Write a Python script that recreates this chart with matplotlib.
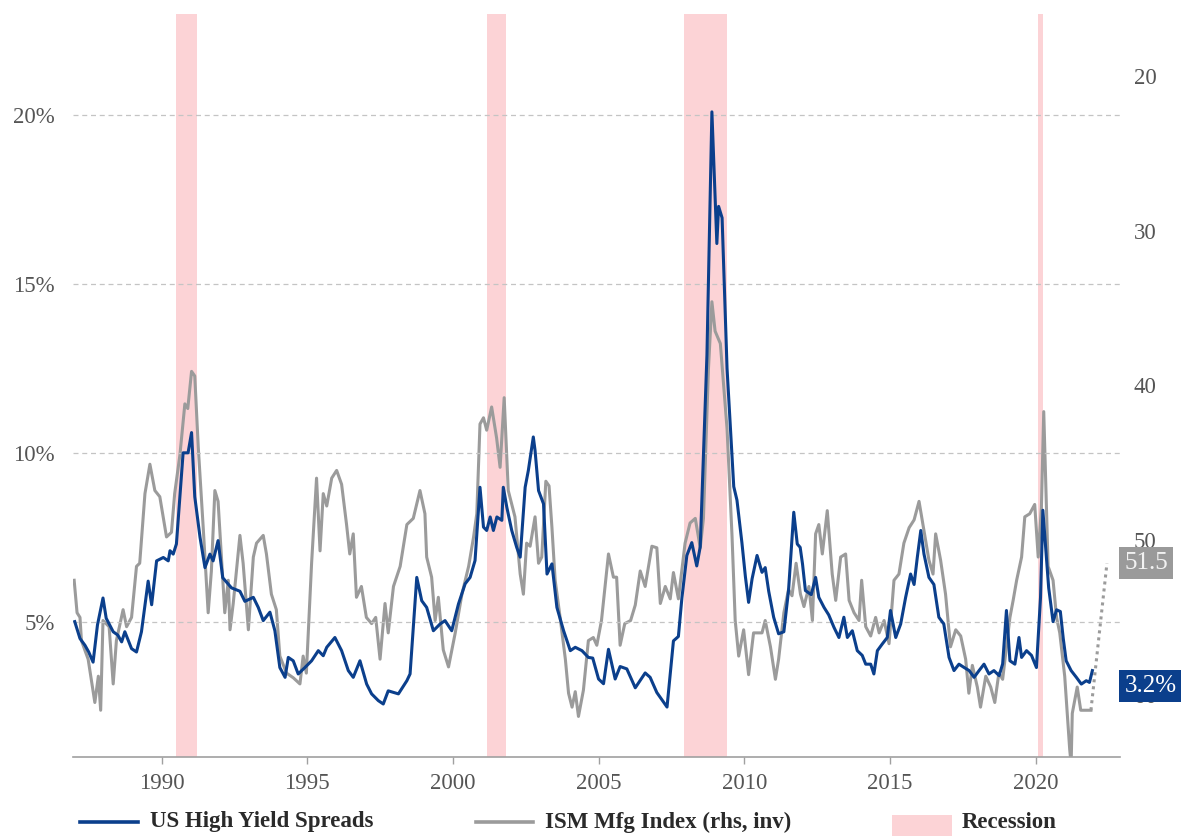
import matplotlib
matplotlib.use("Agg")
import matplotlib.pyplot as plt
import matplotlib.transforms as mtransforms
from matplotlib.lines import Line2D
from matplotlib.patches import Rectangle

plt.rcParams['font.family'] = ['Liberation Serif', 'DejaVu Serif']

# US high yield spreads (%), decimal years
hy_dates = [1987.02, 1987.2, 1987.37, 1987.5, 1987.65, 1987.8, 1987.99, 1988.1, 1988.34, 1988.5,
            1988.63, 1988.74, 1988.97, 1989.14, 1989.31, 1989.54, 1989.66, 1989.83, 1990.06, 1990.23,
            1990.29, 1990.4, 1990.51, 1990.74, 1990.91, 1991.03, 1991.14, 1991.32, 1991.49, 1991.66,
            1991.77, 1991.94, 1992.1, 1992.4, 1992.69, 1992.86, 1993.15, 1993.32, 1993.49, 1993.72,
            1993.89, 1994.06, 1994.24, 1994.35, 1994.52, 1994.69, 1994.92, 1995.15, 1995.38, 1995.55,
            1995.67, 1995.95, 1996.18, 1996.41, 1996.58, 1996.81, 1997.04, 1997.21, 1997.44, 1997.61,
            1997.78, 1998.13, 1998.42, 1998.53, 1998.76, 1998.93, 1999.1, 1999.33, 1999.56, 1999.73,
            1999.96, 2000.19, 2000.42, 2000.59, 2000.76, 2000.93, 2001.05, 2001.16, 2001.28, 2001.39,
            2001.51, 2001.68, 2001.73, 2001.85, 2002.02, 2002.19, 2002.31, 2002.48, 2002.59, 2002.76,
            2002.82, 2002.94, 2003.11, 2003.23, 2003.4, 2003.57, 2003.8, 2004.03, 2004.2, 2004.43,
            2004.65, 2004.8, 2005.0, 2005.17, 2005.34, 2005.57, 2005.74, 2005.97, 2006.26, 2006.6,
            2006.77, 2007.0, 2007.35, 2007.57, 2007.74, 2007.86, 2008.03, 2008.2, 2008.37, 2008.49,
            2008.72, 2008.89, 2009.06, 2009.12, 2009.24, 2009.41, 2009.64, 2009.75, 2009.92, 2010.04,
            2010.15, 2010.27, 2010.44, 2010.61, 2010.72, 2010.84, 2011.01, 2011.18, 2011.36, 2011.52,
            2011.7, 2011.82, 2011.92, 2012.0, 2012.1, 2012.3, 2012.45, 2012.56, 2012.74, 2012.9,
            2013.08, 2013.25, 2013.42, 2013.54, 2013.71, 2013.88, 2014.05, 2014.17, 2014.34, 2014.45,
            2014.57, 2014.74, 2014.91, 2015.02, 2015.2, 2015.37, 2015.54, 2015.71, 2015.83, 2015.94,
            2016.06, 2016.17, 2016.34, 2016.51, 2016.68, 2016.85, 2017.03, 2017.2, 2017.37, 2017.55,
            2017.72, 2017.89, 2018.06, 2018.23, 2018.4, 2018.57, 2018.75, 2018.87, 2019.0, 2019.12,
            2019.29, 2019.43, 2019.52, 2019.69, 2019.86, 2020.03, 2020.17, 2020.25, 2020.45, 2020.6,
            2020.72, 2020.85, 2020.95, 2021.05, 2021.22, 2021.4, 2021.57, 2021.74, 2021.85, 2021.95]
hy_vals = [5.0, 4.5, 4.3, 4.1, 3.8, 4.9, 5.7, 5.1, 4.7, 4.6,
           4.4, 4.7, 4.2, 4.1, 4.7, 6.2, 5.5, 6.8, 6.9, 6.8,
           7.1, 7.0, 7.3, 10.0, 10.0, 10.6, 8.7, 7.5, 6.6, 7.0,
           6.8, 7.4, 6.3, 6.0, 5.9, 5.6, 5.72, 5.42, 5.03, 5.28,
           4.73, 3.64, 3.35, 3.94, 3.84, 3.45, 3.64, 3.84, 4.14, 3.99,
           4.24, 4.53, 4.14, 3.55, 3.35, 3.84, 3.15, 2.86, 2.66, 2.56,
           2.95, 2.86, 3.25, 3.45, 6.31, 5.62, 5.42, 4.73, 4.93, 5.03,
           4.73, 5.52, 6.12, 6.31, 6.81, 8.98, 7.8, 7.7, 8.1, 7.7,
           8.1, 8.0, 8.98, 8.39, 7.7, 7.2, 6.91, 8.98, 9.48, 10.47,
           10.07, 8.88, 8.49, 6.41, 6.71, 5.42, 4.73, 4.14, 4.24, 4.14,
           3.94, 3.92, 3.3, 3.16, 4.18, 3.3, 3.67, 3.6, 3.04, 3.48,
           3.35, 2.9, 2.47, 4.43, 4.56, 5.7, 6.96, 7.34, 6.65, 7.22,
           12.9, 20.1, 16.2, 17.3, 16.96, 12.5, 9.0, 8.6, 7.34, 6.33,
           5.57, 6.27, 6.96, 6.46, 6.6, 5.9, 5.13, 4.64, 4.7, 5.92,
           8.24, 7.3, 7.2, 6.71, 5.92, 5.8, 6.31, 5.72, 5.42, 5.2,
           4.83, 4.53, 5.13, 4.53, 4.73, 4.14, 4.0, 3.74, 3.74, 3.45,
           4.14, 4.34, 4.53, 5.33, 4.53, 4.93, 5.72, 6.41, 6.1, 6.9,
           7.7, 7.0, 6.31, 6.1, 5.13, 4.93, 3.94, 3.55, 3.74, 3.64,
           3.55, 3.35, 3.55, 3.74, 3.45, 3.55, 3.4, 3.75, 5.33, 3.84,
           3.74, 4.53, 3.94, 4.14, 4.0, 3.64, 5.72, 8.3, 6.0, 5.0,
           5.35, 5.3, 4.5, 3.84, 3.55, 3.35, 3.15, 3.25, 3.2, 3.55]

# ISM manufacturing index (right axis, inverted)
ism_dates = [1987.0, 1987.1, 1987.2, 1987.25, 1987.48, 1987.71, 1987.83, 1987.91, 1987.99, 1988.2,
             1988.34, 1988.45, 1988.68, 1988.8, 1988.97, 1989.14, 1989.25, 1989.43, 1989.6, 1989.77,
             1989.94, 1990.17, 1990.34, 1990.45, 1990.63, 1990.8, 1990.9, 1991.03, 1991.14, 1991.26,
             1991.43, 1991.6, 1991.71, 1991.83, 1991.94, 1992.06, 1992.17, 1992.29, 1992.35, 1992.46,
             1992.69, 1992.8, 1992.98, 1993.15, 1993.26, 1993.49, 1993.6, 1993.77, 1993.94, 1994.06,
             1994.29, 1994.52, 1994.75, 1994.86, 1994.97, 1995.15, 1995.32, 1995.44, 1995.55, 1995.67,
             1995.84, 1996.01, 1996.18, 1996.35, 1996.46, 1996.58, 1996.69, 1996.86, 1997.03, 1997.21,
             1997.35, 1997.5, 1997.67, 1997.78, 1997.96, 1998.19, 1998.42, 1998.64, 1998.87, 1999.04,
             1999.1, 1999.27, 1999.39, 1999.5, 1999.67, 1999.85, 2000.08, 2000.31, 2000.54, 2000.71,
             2000.82, 2000.93, 2001.05, 2001.16, 2001.33, 2001.5, 2001.62, 2001.76, 2001.9, 2002.13,
             2002.31, 2002.42, 2002.53, 2002.65, 2002.82, 2002.94, 2003.05, 2003.19, 2003.3, 2003.4,
             2003.51, 2003.68, 2003.86, 2003.97, 2004.09, 2004.2, 2004.31, 2004.48, 2004.65, 2004.82,
             2004.94, 2005.1, 2005.34, 2005.51, 2005.62, 2005.74, 2005.9, 2006.1, 2006.26, 2006.43,
             2006.6, 2006.83, 2007.0, 2007.12, 2007.29, 2007.46, 2007.57, 2007.74, 2007.97, 2008.14,
             2008.32, 2008.49, 2008.6, 2008.77, 2008.89, 2009.0, 2009.18, 2009.41, 2009.58, 2009.69,
             2009.81, 2009.98, 2010.15, 2010.32, 2010.61, 2010.72, 2010.9, 2011.07, 2011.18, 2011.36,
             2011.52, 2011.64, 2011.78, 2011.93, 2012.05, 2012.22, 2012.34, 2012.45, 2012.56, 2012.68,
             2012.85, 2013.02, 2013.14, 2013.31, 2013.48, 2013.6, 2013.77, 2013.94, 2014.03, 2014.17,
             2014.34, 2014.51, 2014.63, 2014.8, 2014.97, 2015.14, 2015.31, 2015.48, 2015.66, 2015.83,
             2016.0, 2016.17, 2016.34, 2016.48, 2016.57, 2016.74, 2016.91, 2017.08, 2017.26, 2017.43,
             2017.6, 2017.71, 2017.83, 2018.0, 2018.11, 2018.29, 2018.46, 2018.6, 2018.74, 2018.87,
             2019.0, 2019.12, 2019.23, 2019.35, 2019.52, 2019.63, 2019.8, 2019.97, 2020.09, 2020.2,
             2020.28, 2020.43, 2020.6, 2020.72, 2020.83, 2021.0, 2021.17, 2021.22, 2021.26, 2021.43,
             2021.55, 2021.72, 2021.9]
ism_vals = [52.6, 54.7, 55.0, 56.5, 57.7, 60.5, 58.8, 61.0, 55.2, 55.6,
            59.3, 56.5, 54.5, 55.6, 55.0, 51.7, 51.5, 47.0, 45.1, 46.8,
            47.2, 49.8, 49.5, 47.0, 44.5, 41.2, 41.5, 39.1, 39.4, 44.0,
            49.2, 54.7, 52.0, 46.8, 47.5, 51.3, 54.7, 52.6, 55.8, 54.1,
            49.7, 51.5, 55.8, 51.1, 50.2, 49.7, 50.9, 53.5, 54.5, 57.5,
            58.6, 58.9, 59.3, 57.5, 58.6, 51.5, 46.0, 50.7, 47.0, 47.8,
            46.0, 45.5, 46.4, 49.0, 50.9, 49.6, 53.7, 53.0, 55.0, 55.4,
            55.0, 57.7, 54.1, 56.0, 53.0, 51.7, 49.0, 48.6, 46.8, 48.3,
            51.1, 52.4, 55.2, 53.7, 57.1, 58.2, 56.0, 53.5, 51.7, 49.8,
            48.3, 42.5, 42.1, 42.9, 41.4, 43.4, 45.3, 40.8, 46.8, 48.5,
            52.2, 53.5, 50.2, 50.4, 48.5, 51.5, 51.1, 46.2, 46.5, 49.2,
            52.6, 55.0, 57.7, 59.9, 60.8, 59.8, 61.4, 59.7, 56.5, 56.3,
            56.8, 55.2, 50.9, 52.4, 52.4, 56.8, 55.4, 55.2, 54.2, 52.0,
            53.0, 50.4, 50.5, 54.1, 53.0, 53.8, 52.1, 53.8, 50.2, 48.9,
            48.6, 50.5, 48.6, 39.0, 34.6, 36.5, 37.3, 42.8, 49.7, 55.2,
            57.5, 55.8, 58.7, 56.0, 56.0, 55.2, 56.9, 59.0, 57.7, 54.7,
            53.2, 53.6, 51.5, 53.5, 54.3, 53.0, 55.2, 49.6, 49.0, 50.9,
            48.1, 52.2, 53.9, 51.1, 50.9, 53.9, 54.7, 55.2, 52.6, 55.6,
            56.2, 55.0, 56.0, 55.2, 56.7, 52.6, 52.2, 50.2, 49.2, 48.7,
            47.5, 49.4, 51.3, 52.2, 49.6, 51.3, 53.5, 56.9, 55.8, 56.2,
            57.7, 59.9, 58.1, 59.5, 60.8, 58.8, 59.5, 60.5, 58.6, 59.0,
            56.9, 55.0, 53.9, 52.6, 51.1, 48.5, 48.3, 47.7, 51.1, 47.9,
            41.7, 51.7, 52.6, 55.0, 56.0, 58.8, 63.5, 64.5, 61.2, 59.5,
            61.0, 61.0, 61.0]

# projection of the ISM index
ism_fc_dates = [2021.9, 2022.45]
ism_fc_vals = [61.0, 51.5]

recessions = [(1990.5, 1991.2), (2001.17, 2001.83), (2007.92, 2009.42), (2020.08, 2020.25)]

blue = '#0b3f8c'
grey = '#9b9b9b'
pink = '#fcd3d6'
tick_col = '#555555'

fig = plt.figure(figsize=(11.84, 8.36), dpi=100)
ax = fig.add_axes([0.0614, 0.0949, 0.8846, 0.8884])
ax2 = ax.twinx()

# grey series and recessions on the lower layer, blue on top
ax.set_zorder(ax2.get_zorder() + 1)
ax.patch.set_visible(False)

for start, end in recessions:
    ax2.axvspan(start, end, color=pink, lw=0, zorder=0)
ax2.plot(ism_dates, ism_vals, color=grey, lw=2.2, zorder=2)
ax2.plot(ism_fc_dates, ism_fc_vals, color=grey, lw=2.2, ls=(0, (1, 1.3)), zorder=2)
ax.plot(hy_dates, hy_vals, color=blue, lw=2.2, zorder=3)

ax.set_xlim(1986.95, 2022.9)
ax.set_ylim(1, 23)
ax2.set_ylim(64, 16)

ax.set_yticks([5, 10, 15, 20])
ax.set_yticklabels(['5%', '10%', '15%', '20%'])
ax2.set_yticks([20, 30, 40, 50, 60])
ax.set_xticks([1990, 1995, 2000, 2005, 2010, 2015, 2020])

ax.grid(axis='y', color='#c4c4c4', ls=(0, (4, 3)), lw=0.9)
ax.set_axisbelow(True)

for a in (ax, ax2):
    for side in ('top', 'left', 'right', 'bottom'):
        a.spines[side].set_visible(False)
ax.spines['bottom'].set_visible(True)
ax.spines['bottom'].set_color('#a0a0a0')
ax.spines['bottom'].set_linewidth(1.2)

ax.tick_params(axis='x', colors='#a0a0a0', length=5, width=1, pad=7,
               labelsize=16.5, labelcolor=tick_col)
ax.tick_params(axis='y', length=0, pad=13, labelsize=16.5, labelcolor=tick_col)
ax2.tick_params(axis='y', length=0, pad=10, labelsize=16.5, labelcolor=tick_col)

# end-of-series value boxes (they sit over the "60" label, as in the source)
tr_grey = mtransforms.blended_transform_factory(ax.transAxes, ax2.transData)
ax2.text(1.004, 51.5, '51.5', transform=tr_grey, ha='left', va='center',
         fontsize=18, color='#f2f2f2', zorder=10,
         bbox=dict(boxstyle='square,pad=0.2', fc='#9a9a9a', ec='none'))
tr_blue = mtransforms.blended_transform_factory(ax.transAxes, ax.transData)
ax.text(1.004, 3.1, '3.2%', transform=tr_blue, ha='left', va='center',
        fontsize=18, color='white', zorder=10, clip_on=False,
        bbox=dict(boxstyle='square,pad=0.2', fc=blue, ec='none'))

# legend along the bottom
W, H = 1184.0, 836.0
ly = 1 - 822 / H
fig.add_artist(Line2D([80 / W, 138 / W], [ly, ly], color=blue, lw=2.6))
fig.text(150 / W, ly, 'US High Yield Spreads', fontsize=16.5, fontweight='bold',
         color='#2a2a2a', va='center')
fig.add_artist(Line2D([476 / W, 533 / W], [ly, ly], color=grey, lw=2.6))
fig.text(545 / W, ly, 'ISM Mfg Index (rhs, inv)', fontsize=16.5, fontweight='bold',
         color='#2a2a2a', va='center')
fig.add_artist(Rectangle((892 / W, 1 - 836 / H), 60 / W, 21 / H, color=pink, lw=0))
fig.text(962 / W, ly, 'Recession', fontsize=16.5, fontweight='bold',
         color='#2a2a2a', va='center')

fig.savefig('out.png', dpi=100)
